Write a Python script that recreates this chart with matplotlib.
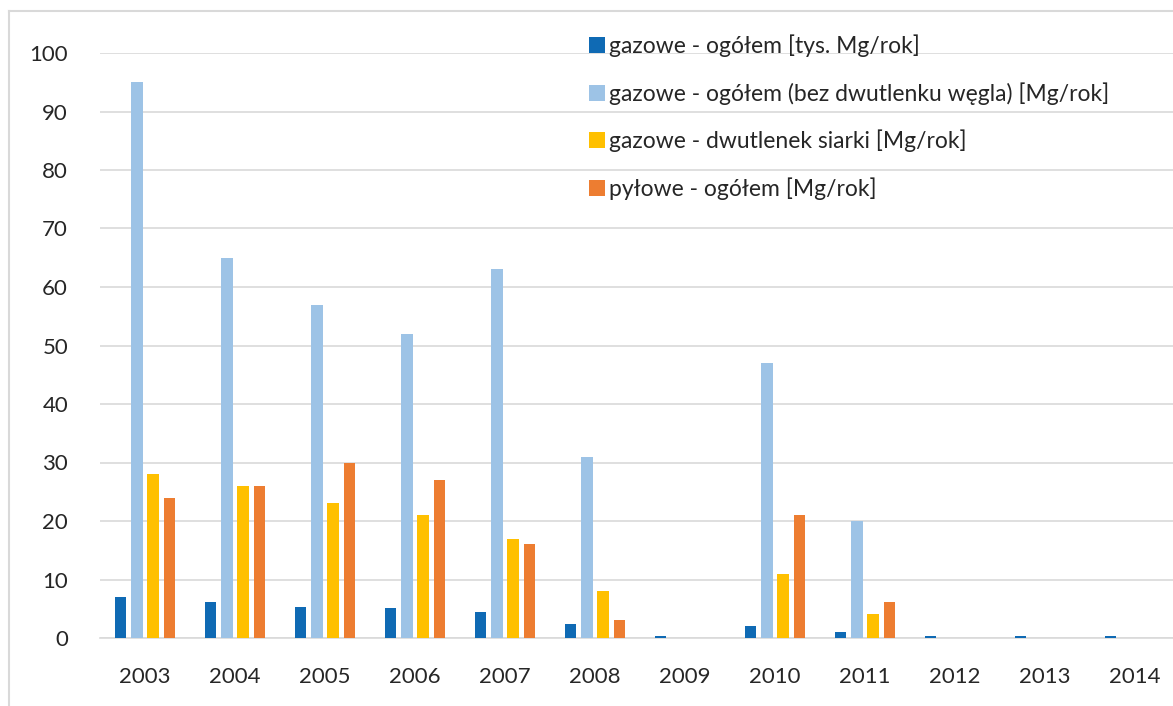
import matplotlib

matplotlib.use('Agg')
import matplotlib.pyplot as plt
import numpy as np
from matplotlib.lines import Line2D

plt.rcParams['font.family'] = ['Lato', 'DejaVu Sans']

years = ['2003', '2004', '2005', '2006', '2007', '2008', '2009',
         '2010', '2011', '2012', '2013', '2014']
gaz_total = [7.0, 6.1, 5.3, 5.1, 4.4, 2.4, 0.4, 2.0, 1.0, 0.4, 0.4, 0.4]
gaz_no_co2 = [95, 65, 57, 52, 63, 31, 0, 47, 20, 0, 0, 0]
so2 = [28, 26, 23, 21, 17, 8, 0, 11, 4.1, 0, 0, 0]
dust = [24, 26, 30, 27, 16, 3.1, 0, 21, 6.1, 0, 0, 0]

labels = ['gazowe - ogółem [tys. Mg/rok]',
          'gazowe - ogółem (bez dwutlenku węgla) [Mg/rok]',
          'gazowe - dwutlenek siarki [Mg/rok]',
          'pyłowe - ogółem [Mg/rok]']
colors = ['#0F6AB4', '#9DC3E6', '#FFC000', '#ED7D31']
series = [gaz_total, gaz_no_co2, so2, dust]

fig = plt.figure(figsize=(11.73, 7.06), dpi=100)
fig.patch.set_facecolor('white')
ax = fig.add_axes([100 / 1173, 1 - 638 / 706, 1 - 100 / 1173, (638 - 53) / 706])

x = np.arange(len(years))
w = 0.128
offsets = [-0.27, -0.09, 0.09, 0.27]
for vals, off, c, lbl in zip(series, offsets, colors, labels):
    ax.bar(x + off, vals, w, color=c, label=lbl, zorder=3)

ax.set_xlim(-0.5, 11.5 - 7 / 90)
ax.set_ylim(0, 100)
ax.set_yticks(range(0, 101, 10))
ax.set_xticks(x)
ax.set_xticklabels(years)
ax.tick_params(axis='both', length=0, labelsize=16, labelcolor='#262626')
ax.tick_params(axis='x', pad=21)
ax.tick_params(axis='y', pad=23)
ax.grid(axis='y', color='#D9D9D9', linewidth=1.2, zorder=0)
for s in ['top', 'right', 'left']:
    ax.spines[s].set_visible(False)
ax.spines['bottom'].set_color('#D9D9D9')
ax.spines['bottom'].set_linewidth(1.2)

leg = ax.legend(loc='upper left', bbox_to_anchor=(580 / 1173, 1 - 25 / 706),
                bbox_transform=fig.transFigure, frameon=False, fontsize=16.5,
                handlelength=0.7, handleheight=0.7, handletextpad=0.18,
                labelspacing=1.1, borderaxespad=0)
for t in leg.get_texts():
    t.set_color('#262626')

# outer chart frame
fig.add_artist(Line2D([9 / 1173, 9 / 1173], [0, 1 - 11 / 706], transform=fig.transFigure,
                      color='#D9D9D9', linewidth=1.5))
fig.add_artist(Line2D([9 / 1173, 1], [1 - 11 / 706, 1 - 11 / 706], transform=fig.transFigure,
                      color='#D9D9D9', linewidth=1.5))

fig.savefig('out.png', dpi=100)
